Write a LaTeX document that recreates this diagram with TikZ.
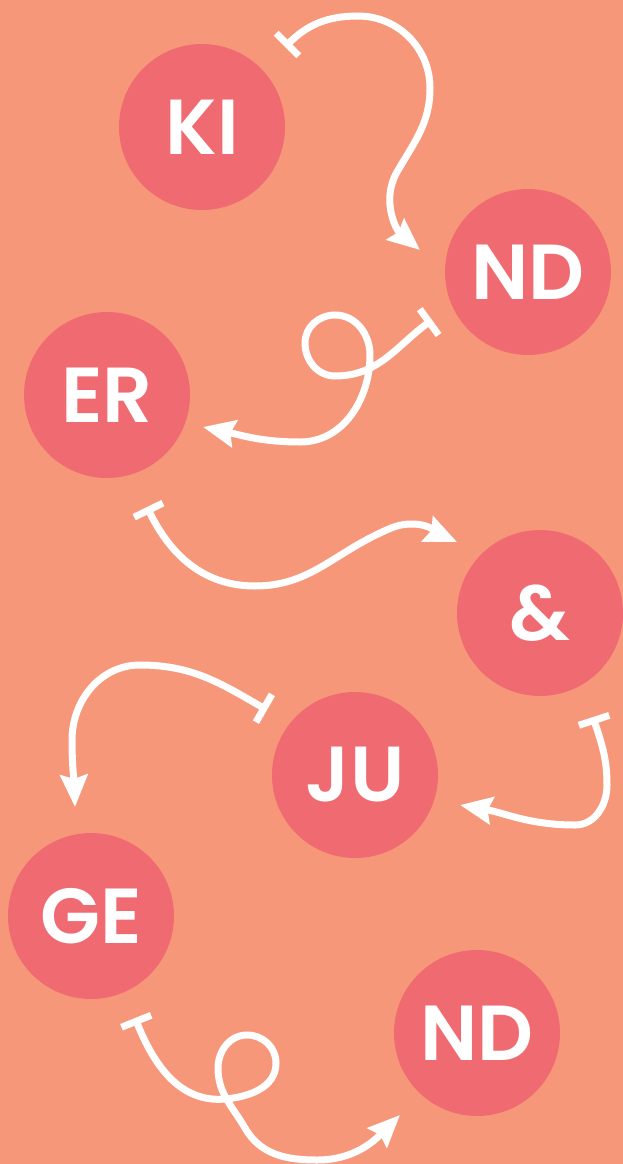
\documentclass[tikz,border=0pt]{standalone}
\usepackage{fontspec}
\setmainfont{Poppins}[BoldFont={Poppins SemiBold}]
\usetikzlibrary{arrows.meta}
\definecolor{bgc}{HTML}{F7977A}
\definecolor{cc}{HTML}{F06A72}
\tikzset{
  blob/.style={circle, fill=cc, minimum size=166pt, inner sep=0pt, text=white, font=\fontsize{78}{78}\selectfont\bfseries},
  conn/.style={draw=white, line width=7pt, {Bar[width=32pt]}-{Stealth[length=32pt,width=27pt,inset=4pt]}}
}
\begin{document}
\begin{tikzpicture}[x=1pt,y=1pt]
\fill[bgc] (0,0) rectangle (623,-1164);
\useasboundingbox (0,0) rectangle (623,-1164);
\node[blob] (KI) at (202,-127) {KI};
\node[blob] (ND1) at (528,-272) {ND};
\node[blob] (ER) at (107,-395) {ER};
\node[blob] (AMP) at (540,-613) {\&};
\node[blob] (JU) at (355,-775) {JU};
\node[blob] (GE) at (91,-916) {GE};
\node[blob] (ND2) at (477,-1033) {ND};
% connector ends
\coordinate (t1) at (285,-47);   \coordinate (a1) at (420,-250);
\coordinate (t2) at (432,-320);  \coordinate (a2) at (203,-427);
\coordinate (t3) at (147,-507);  \coordinate (a3) at (457,-542);
\coordinate (t4) at (267,-710);  \coordinate (a4) at (75,-807);
\coordinate (t5) at (593,-717);  \coordinate (a5) at (460,-805);
\coordinate (t6) at (135,-1018); \coordinate (a6) at (400,-1115);
% KI -> ND
\draw[conn] (t1) to[out=45,in=180] (358,-16) to[out=0,in=90] (430,-88)
  to[out=-90,in=60] (397,-172) to[out=-120,in=140] (a1);
% ND -> ER
\draw[conn] (t2) to[out=216,in=0] (335,-376) to[out=180,in=-90] (305,-343)
  to[out=90,in=180] (335,-315) to[out=0,in=90] (370,-355)
  to[out=-90,in=0] (300,-442) to[out=180,in=-12] (a2);
% ER -> &
\draw[conn] (t3) to[out=-64,in=180] (255,-586) to[out=0,in=205] (380,-533)
  to[out=25,in=180] (412,-524) to[out=0,in=156] (a3);
% JU -> GE
\draw[conn] (t4) to[out=150,in=0] (140,-665) to[out=180,in=90] (72,-740)
  to[out=-90,in=92] (a4);
% & -> JU
\draw[conn] (t5) to[out=-72,in=90] (607,-785) to[out=-90,in=0] (575,-825)
  to[out=180,in=-10] (a5);
% GE -> ND
\draw[conn] (t6) to[out=-68,in=185] (225,-1099) to[out=5,in=-90] (276,-1063)
  to[out=90,in=0] (247,-1035) to[out=180,in=90] (218,-1068)
  to[out=-90,in=120] (245,-1128) to[out=-60,in=180] (317,-1160)
  to[out=0,in=225] (a6);
\end{tikzpicture}
\end{document}
